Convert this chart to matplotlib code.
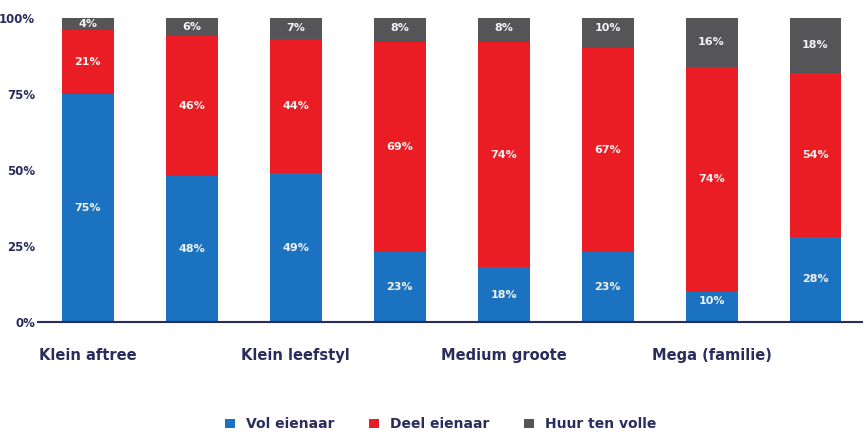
import numpy as np
import matplotlib
matplotlib.use("Agg")
import matplotlib.pyplot as plt
from matplotlib.patches import Patch

# data (percent per bar)
categories = ["Klein aftree", "Klein leefstyl", "Medium groote", "Mega (familie)"]
vol_eienaar = [75, 48, 49, 23, 18, 23, 10, 28]
deel_eienaar = [21, 46, 44, 69, 74, 67, 74, 54]
huur_ten_volle = [4, 6, 7, 8, 8, 10, 16, 18]
series_names = ["Vol eienaar", "Deel eienaar", "Huur ten volle"]
y_ticks = [0, 25, 50, 75, 100]

colors = ["#1a72c1", "#ea1c24", "#555557"]
navy = "#2a2c5c"

plt.rcParams['font.family'] = ['DejaVu Sans']

fig = plt.figure(figsize=(8.64, 4.36), dpi=100)
ax = fig.add_axes([0.044, 0.2615, 0.954, 0.6972])

x = np.arange(len(vol_eienaar))
width = 0.5
bottom = np.zeros(len(x))
for vals, col in zip([vol_eienaar, deel_eienaar, huur_ten_volle], colors):
    vals = np.array(vals, dtype=float)
    ax.bar(x, vals, width, bottom=bottom, color=col, linewidth=0)
    for xi, b, v in zip(x, bottom, vals):
        # small top segments get their label near the top of the segment
        if v <= 10:
            yy = b + v - 3.2 if v > 6 else b + v / 2
        else:
            yy = b + v / 2
        ax.text(xi, yy, f"{int(v)}%", ha="center", va="center",
                color="#f2f2f2", fontsize=8, fontweight="bold")
    bottom += vals

ax.set_xlim(-0.48, 7.45)
ax.set_ylim(0, 100)
ax.set_yticks(y_ticks)
ax.set_yticklabels([f"{t}%" for t in y_ticks], fontsize=8.5,
                   fontweight="bold", color=navy)
ax.tick_params(axis="y", length=0, pad=2)
ax.set_xticks([])
for s in ["top", "right", "left"]:
    ax.spines[s].set_visible(False)
ax.spines["bottom"].set_color(navy)
ax.spines["bottom"].set_linewidth(1.5)

for i, cat in enumerate(categories):
    ax.text(2 * i, -11, cat, ha="center", va="center", fontsize=10.5,
            fontweight="bold", color=navy, transform=ax.transData)

handles = [Patch(facecolor=c, edgecolor="none") for c in colors]
fig.legend(handles, series_names, loc="center", bbox_to_anchor=(0.51, 0.027),
           ncol=3, frameon=False, fontsize=10, handlelength=0.7,
           handleheight=0.7, columnspacing=2.5, handletextpad=0.8,
           labelcolor=navy, prop={'weight': 'bold', 'size': 10})

fig.savefig("out.png", dpi=100)
